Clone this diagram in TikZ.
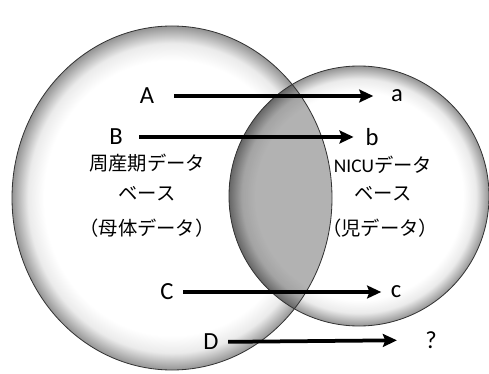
\documentclass[tikz,border=0pt]{standalone}
\usepackage{fontspec}
\setmainfont{Carlito}
\newfontfamily\jp{Noto Sans CJK JP}
\usetikzlibrary{arrows.meta}

\pgfdeclareradialshading{ball}{\pgfpoint{0bp}{0bp}}{color(0bp)=(white); color(20bp)=(white); color(22.5bp)=(black!8); color(25bp)=(black!42); color(50bp)=(black!42)}

\begin{document}
\begin{tikzpicture}[x=0.03cm, y=-0.03cm, >=Stealth,
  letter/.style={font=\fontsize{21}{21}\selectfont, inner sep=0pt},
  dbtext/.style={font=\jp\fontsize{16.5}{16.5}\selectfont, inner sep=0pt},
  rim/.style={draw=black!80, line width=0.7pt},
  flow/.style={line width=3.2pt, -{Stealth[length=12pt,width=11pt,inset=2pt]}}]
\useasboundingbox (0,0) rectangle (489,374);
% two data sets
\shade[shading=ball] (172,198) ellipse [x radius=160, y radius=172];
\shade[shading=ball] (359,196) circle [radius=130];
\begin{scope}
  \clip (172,198) ellipse [x radius=160, y radius=172];
  \fill[black, fill opacity=0.3] (359,196) circle [radius=130];
\end{scope}
\draw[rim] (172,198) ellipse [x radius=160, y radius=172];
\draw[rim] (359,196) circle [radius=130];
% database names
\node[dbtext] (peri1) at (147,163) {周産期データ};
\node[dbtext] (peri2) at (147,194) {ベース};
\node[dbtext] (peri3) at (147,228) {（母体データ）};
\node[dbtext] (nicu1) at (383,165) {{\rmfamily NICU}データ};
\node[dbtext] (nicu2) at (383,194) {ベース};
\node[dbtext] (nicu3) at (380,228) {（児データ）};
% mothers and infants
\node[letter] (A) at (147,96)  {A};
\node[letter] (a) at (397,96)  {a};
\node[letter] (B) at (116,137) {B};
\node[letter] (b) at (372,137) {b};
\node[letter] (C) at (167,292) {C};
\node[letter] (c) at (396,292) {c};
\node[letter] (D) at (211,342) {D};
\node[letter] (q) at (431,340) {?};
\draw[flow, shorten <=17pt, shorten >=15pt] (A) -- (a);
\draw[flow, shorten <=14pt, shorten >=10pt] (B) -- (b);
\draw[flow, shorten <=8pt, shorten >=8pt] (C) -- (c);
\draw[flow, shorten <=8pt, shorten >=24pt] (D) -- (q);
\end{tikzpicture}
\end{document}
